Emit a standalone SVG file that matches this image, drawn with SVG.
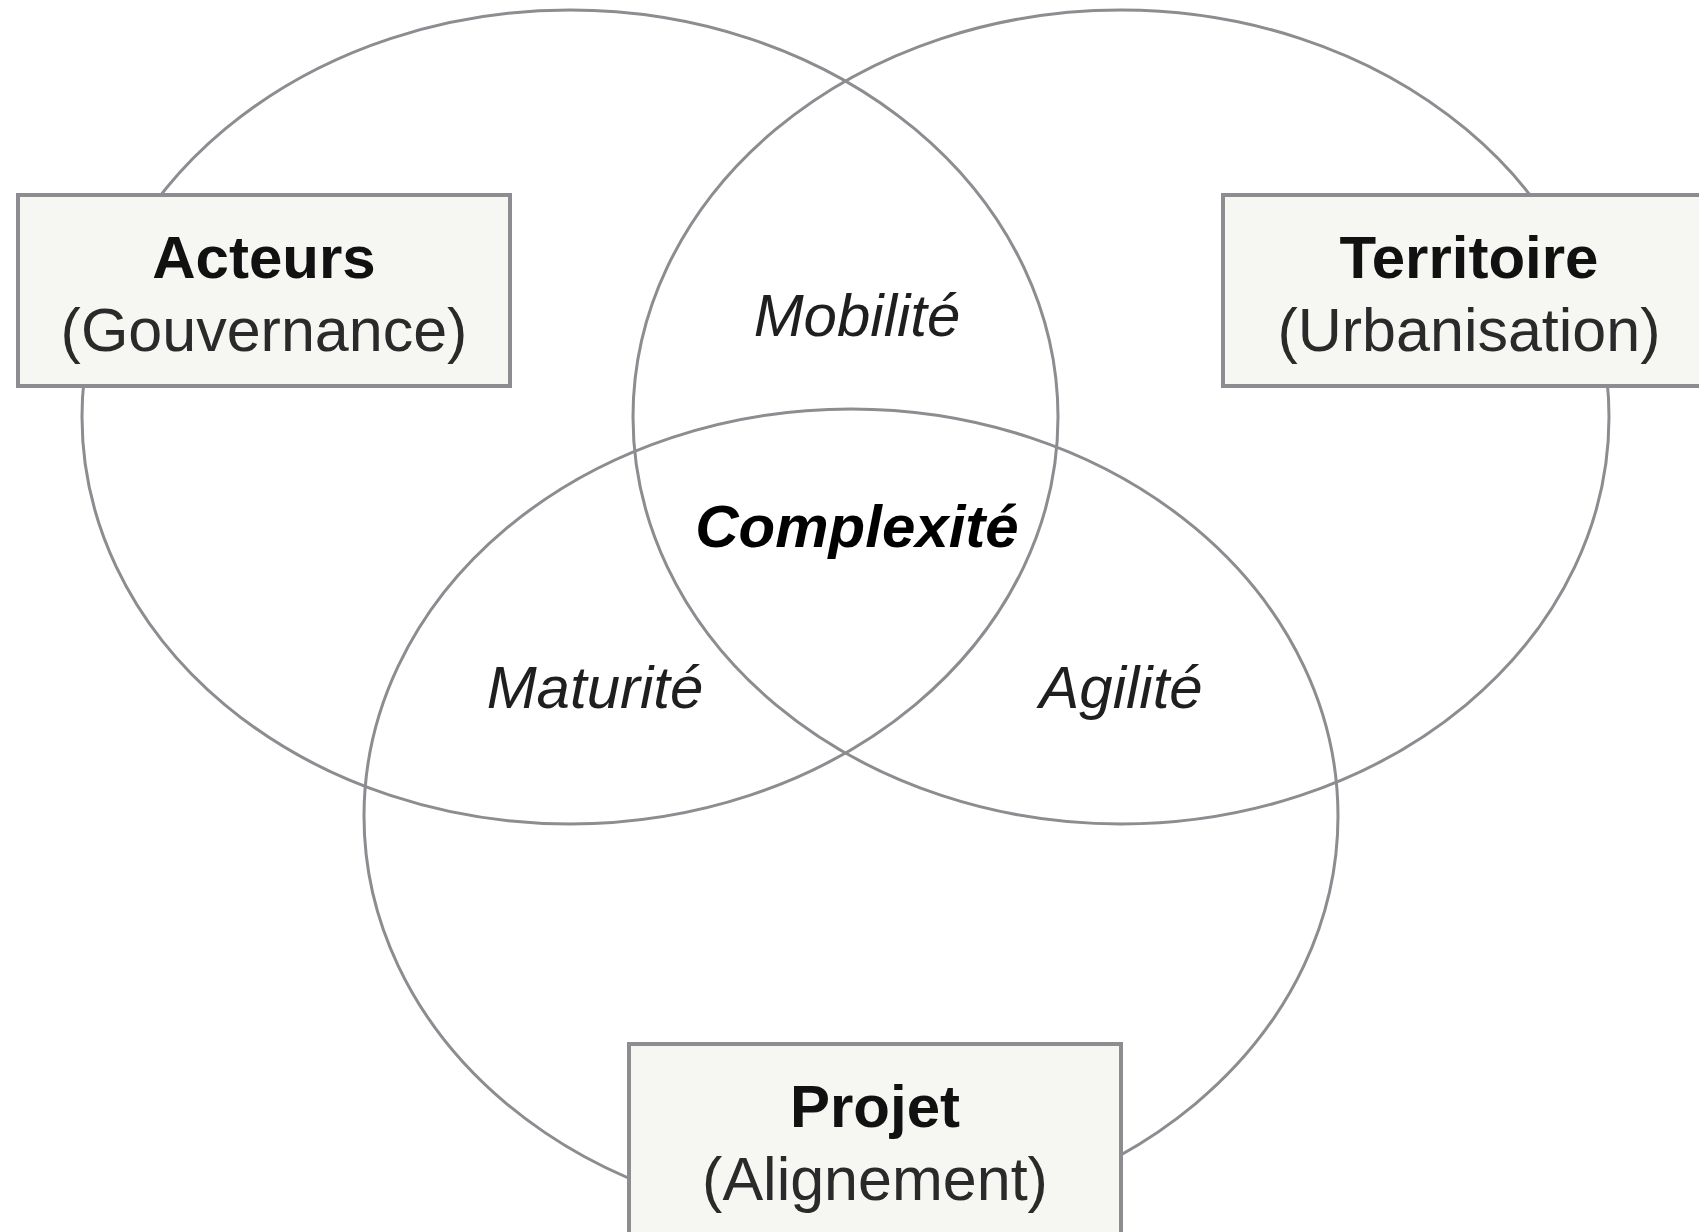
<svg xmlns="http://www.w3.org/2000/svg" width="1699" height="1232" viewBox="0 0 1699 1232">
  <style>
    .ring { fill: none; stroke: #8c8c91; stroke-width: 3; }
    .box { fill: #f6f7f2; stroke: #8c8c91; stroke-width: 4; }
    .title { font-family: "Liberation Sans", Arial, sans-serif; font-weight: bold; font-size: 60px; fill: #111; text-anchor: middle; }
    .sub { font-family: "Liberation Sans", Arial, sans-serif; font-size: 61px; fill: #2a2a2a; text-anchor: middle; }
    .zone { font-family: "Liberation Sans", Arial, sans-serif; font-style: italic; font-size: 60px; fill: #1f1f1f; text-anchor: middle; }
    .core { font-family: "Liberation Sans", Arial, sans-serif; font-style: italic; font-weight: bold; font-size: 60px; fill: #000; text-anchor: middle; }
  </style>
  <rect x="0" y="0" width="1699" height="1232" fill="#ffffff"/>
  <g id="sets">
    <ellipse id="set-acteurs" class="ring" cx="570" cy="417" rx="488" ry="407"/>
    <ellipse id="set-territoire" class="ring" cx="1121" cy="417" rx="488" ry="407"/>
    <ellipse id="set-projet" class="ring" cx="851" cy="816" rx="487" ry="407"/>
  </g>
  <g id="zones">
    <text id="zone-mobilite" class="zone" x="857" y="336">Mobilité</text>
    <text id="zone-complexite" class="core" x="857" y="547">Complexité</text>
    <text id="zone-maturite" class="zone" x="595" y="708">Maturité</text>
    <text id="zone-agilite" class="zone" x="1121" y="708">Agilité</text>
  </g>
  <g id="node-acteurs">
    <rect class="box" x="18" y="195" width="492" height="191"/>
    <text class="title" x="264" y="278">Acteurs</text>
    <text class="sub" x="264" y="351">(Gouvernance)</text>
  </g>
  <g id="node-territoire">
    <rect class="box" x="1223" y="195" width="492" height="191"/>
    <text class="title" x="1469" y="278">Territoire</text>
    <text class="sub" x="1469" y="351">(Urbanisation)</text>
  </g>
  <g id="node-projet">
    <rect class="box" x="629" y="1044" width="492" height="191"/>
    <text class="title" x="875" y="1127">Projet</text>
    <text class="sub" x="875" y="1200">(Alignement)</text>
  </g>
  <g id="connectors"></g>
</svg>
